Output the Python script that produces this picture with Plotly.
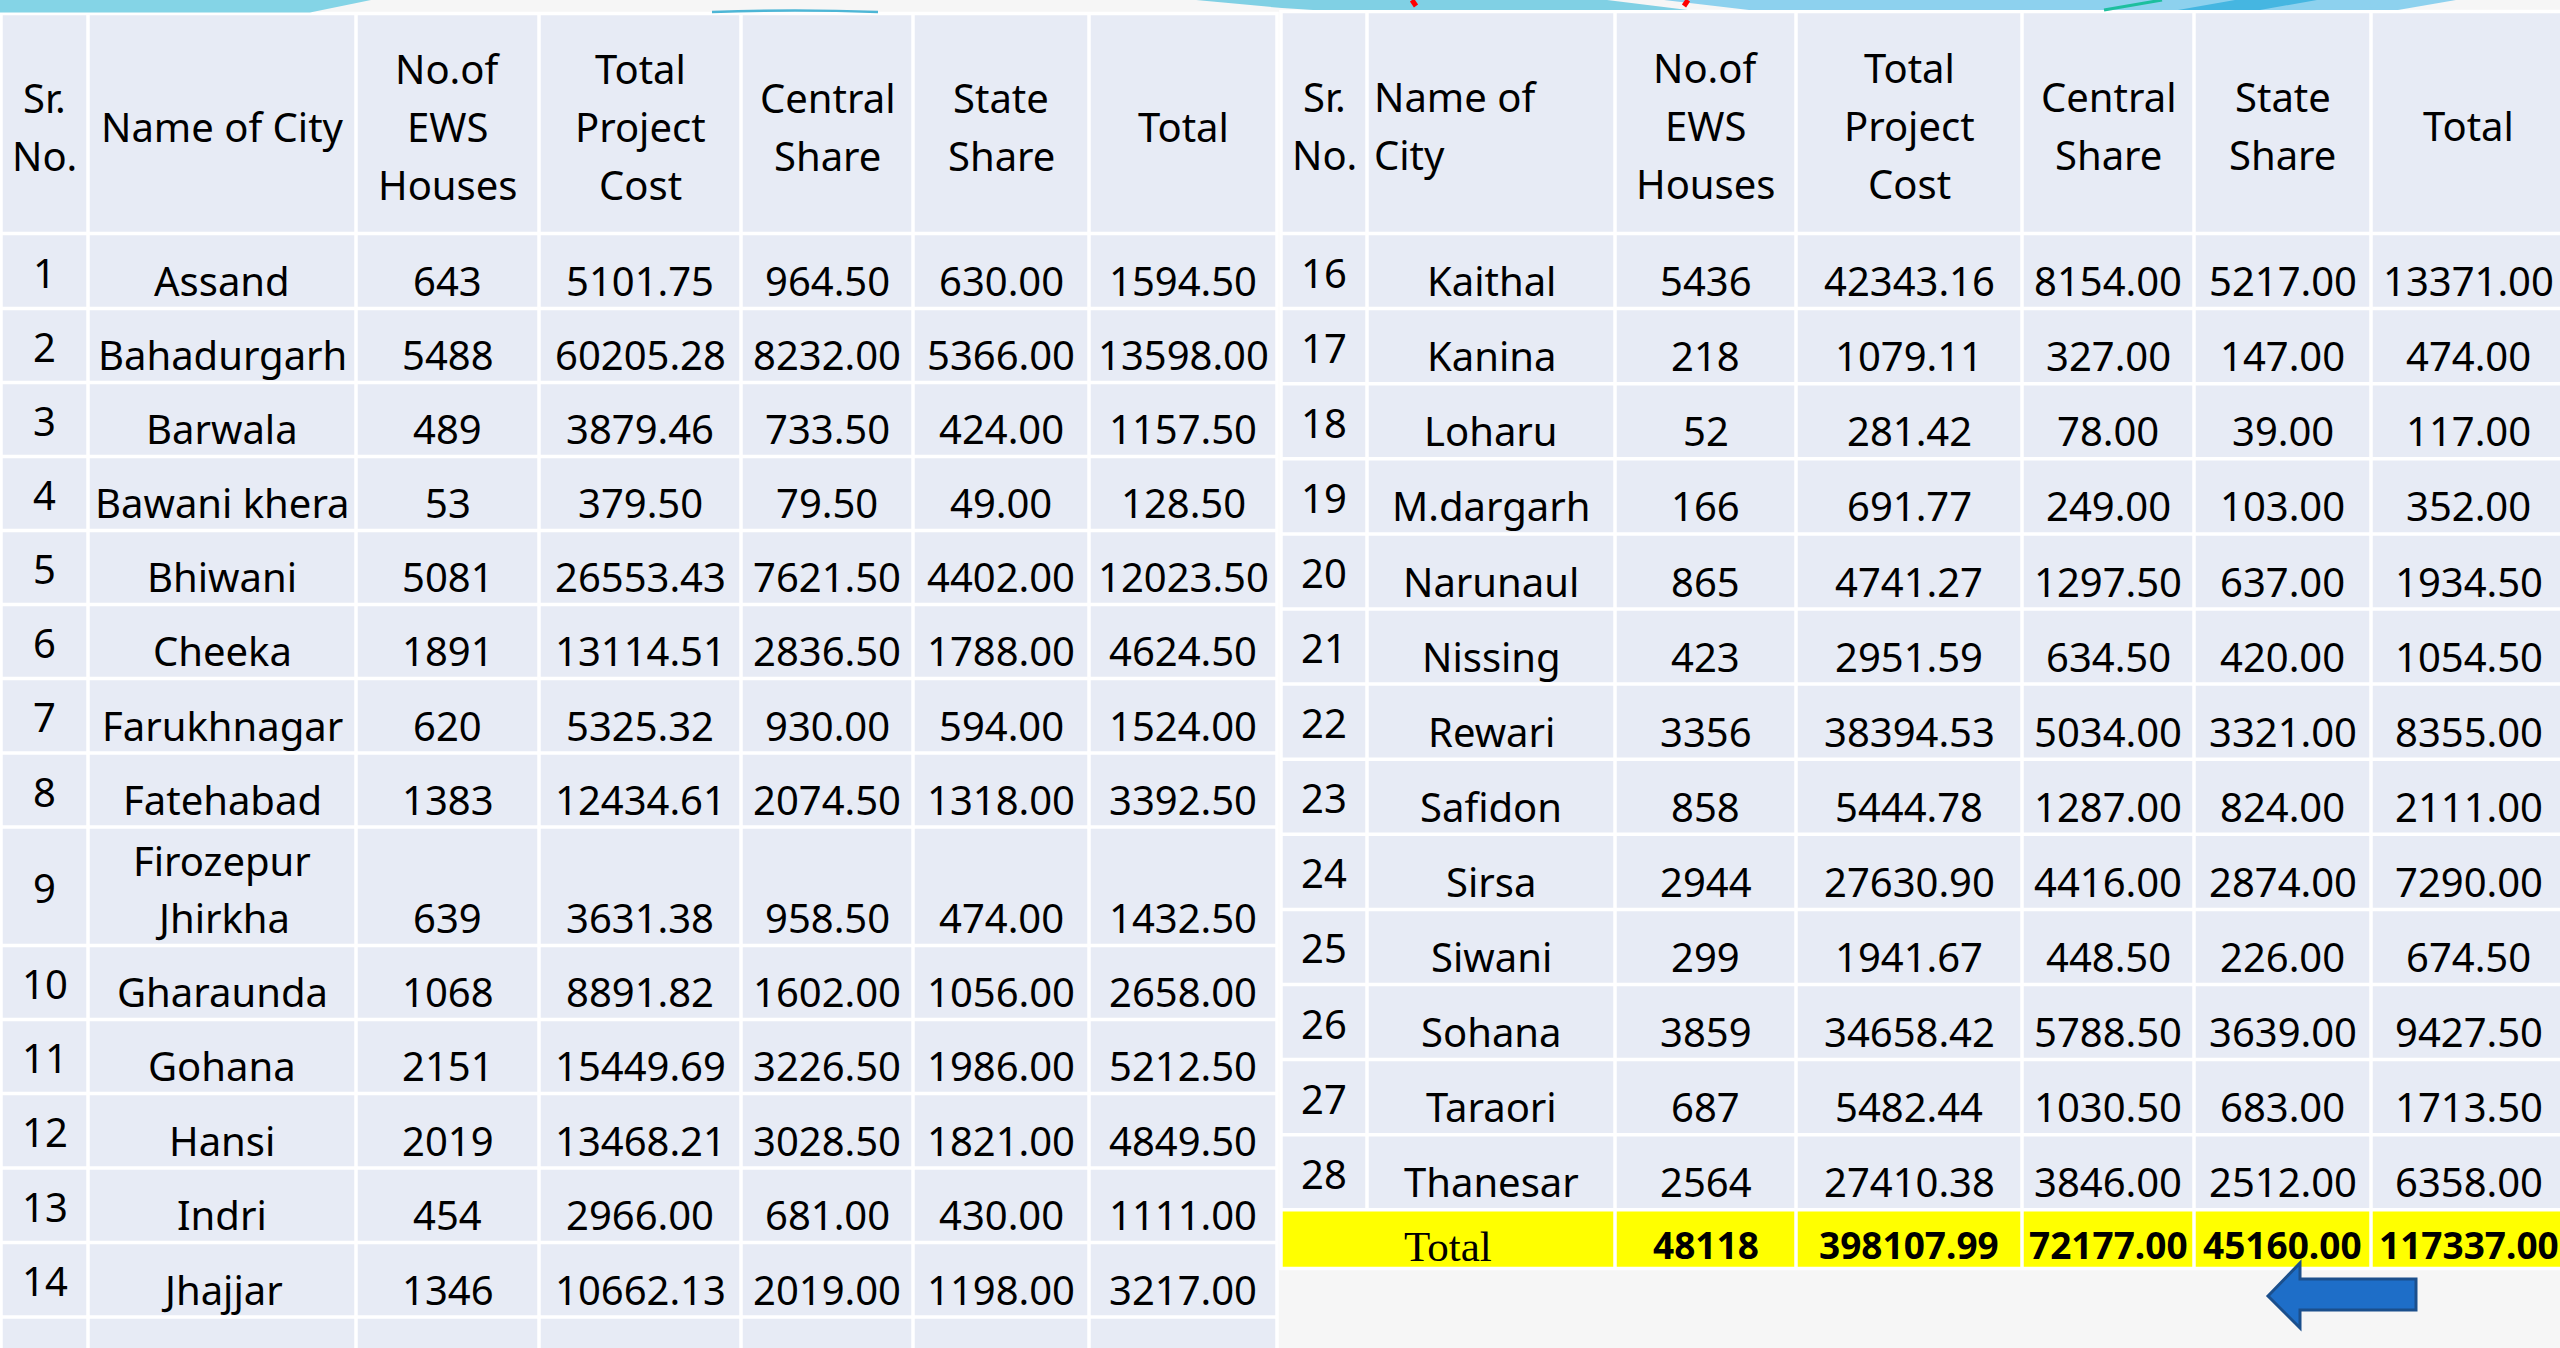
import plotly.graph_objects as go

# ---------------- data ----------------
left_sr = [1, 2, 3, 4, 5, 6, 7, 8, 9, 10, 11, 12, 13, 14, 15]
left_city = ["Assand", "Bahadurgarh", "Barwala", "Bawani khera", "Bhiwani", "Cheeka",
             "Farukhnagar", "Fatehabad", "Firozepur<br>Jhirkha", "Gharaunda", "Gohana",
             "Hansi", "Indri", "Jhajjar", "Jind"]
left_houses = [643, 5488, 489, 53, 5081, 1891, 620, 1383, 639, 1068, 2151, 2019, 454, 1346, 3066]
left_cost = [5101.75, 60205.28, 3879.46, 379.50, 26553.43, 13114.51, 5325.32, 12434.61,
             3631.38, 8891.82, 15449.69, 13468.21, 2966.00, 10662.13, 22993.46]
left_central = [964.50, 8232.00, 733.50, 79.50, 7621.50, 2836.50, 930.00, 2074.50,
                958.50, 1602.00, 3226.50, 3028.50, 681.00, 2019.00, 4599.00]
left_state = [630.00, 5366.00, 424.00, 49.00, 4402.00, 1788.00, 594.00, 1318.00,
              474.00, 1056.00, 1986.00, 1821.00, 430.00, 1198.00, 2982.00]
left_total = [1594.50, 13598.00, 1157.50, 128.50, 12023.50, 4624.50, 1524.00, 3392.50,
              1432.50, 2658.00, 5212.50, 4849.50, 1111.00, 3217.00, 7581.00]

right_sr = [16, 17, 18, 19, 20, 21, 22, 23, 24, 25, 26, 27, 28]
right_city = ["Kaithal", "Kanina", "Loharu", "M.dargarh", "Narunaul", "Nissing", "Rewari",
              "Safidon", "Sirsa", "Siwani", "Sohana", "Taraori", "Thanesar"]
right_houses = [5436, 218, 52, 166, 865, 423, 3356, 858, 2944, 299, 3859, 687, 2564]
right_cost = [42343.16, 1079.11, 281.42, 691.77, 4741.27, 2951.59, 38394.53, 5444.78,
              27630.90, 1941.67, 34658.42, 5482.44, 27410.38]
right_central = [8154.00, 327.00, 78.00, 249.00, 1297.50, 634.50, 5034.00, 1287.00,
                 4416.00, 448.50, 5788.50, 1030.50, 3846.00]
right_state = [5217.00, 147.00, 39.00, 103.00, 637.00, 420.00, 3321.00, 824.00,
               2874.00, 226.00, 3639.00, 683.00, 2512.00]
right_total = [13371.00, 474.00, 117.00, 352.00, 1934.50, 1054.50, 8355.00, 2111.00,
               7290.00, 674.50, 9427.50, 1713.50, 6358.00]

total_label = "Total"
grand_totals = [48118, 398107.99, 72177.00, 45160.00, 117337.00]

left_headers = ["Sr.<br>No.", "Name of City", "No.of<br>EWS<br>Houses", "Total<br>Project<br>Cost",
                "Central<br>Share", "State<br>Share", "Total"]
right_headers = ["Sr.<br>No.", "Name of<br>City", "No.of<br>EWS<br>Houses", "Total<br>Project<br>Cost",
                 "Central<br>Share", "State<br>Share", "Total"]

# ---------------- layout geometry (pixels) ----------------
W, H = 2560, 1348
L_COLS = [1, 88, 356, 539, 741, 913, 1089, 1277]
L_ROWS = [13.5, 233.5, 308.5, 382.5, 456.5, 530.5, 604.5, 678.5, 753, 827, 945.5,
          1019.5, 1093.5, 1168, 1242.5, 1317, 1391]
R_COLS = [1281, 1367, 1615, 1796, 2022, 2194, 2371, 2566]
R_ROWS = [11.5, 233.5, 308.6, 383.7, 458.8, 533.9, 609.0, 684.1, 759.2, 834.3, 909.4,
          984.5, 1059.6, 1134.7, 1209.8, 1268.5]
GAP = 1.75
CELL_FILL = "#E7EBF5"
BG = "#F6F6F6"
FONT = "Noto Sans, Open Sans, sans-serif"
FS = 40
HEAD_LS = 58
BODY_LS = 57

shapes = []
annotations = []


def rect(x0, x1, y0, y1, fill, layer="below"):
    shapes.append(dict(type="rect", xref="x", yref="y", x0=x0, x1=x1, y0=y0, y1=y1,
                       fillcolor=fill, line=dict(width=0), layer=layer))


def text(x, y, s, size=FS, anchor="center", family=FONT, bold=False, color="black"):
    if bold:
        s = "<b>" + s + "</b>"
    annotations.append(dict(x=x, y=y, xref="x", yref="y", text=s, showarrow=False,
                            xanchor=anchor, yanchor="middle",
                            font=dict(family=family, size=size, color=color)))


def lines(x, y_last, s, ls, anchor="center", centered=None):
    parts = s.split("<br>")
    n = len(parts)
    for i, p in enumerate(parts):
        if centered is not None:
            y = centered + (i - (n - 1) / 2) * ls
        else:
            y = y_last - (n - 1 - i) * ls
        text(x, y, p, anchor=anchor)


def fmt2(v):
    return f"{v:.2f}"


def draw_table(cols, rows, headers, sr, city, houses, cost, central, state, total,
               name_header_left=False, total_row=None):
    # white backing (cell borders)
    rect(cols[0] - GAP, cols[-1] + GAP, rows[0] - GAP, rows[-1] + GAP, "white")
    nrows = len(rows) - 1
    for r in range(nrows):
        y0, y1 = rows[r], rows[r + 1]
        is_total = total_row is not None and r == nrows - 1
        if is_total:
            rect(cols[0] + GAP, cols[2] - GAP, y0 + GAP, y1 - GAP, "#FFFF00")
            for c in range(2, len(cols) - 1):
                rect(cols[c] + GAP, cols[c + 1] - GAP, y0 + GAP, y1 - GAP, "#FFFF00")
        else:
            for c in range(len(cols) - 1):
                rect(cols[c] + GAP, cols[c + 1] - GAP, y0 + GAP, y1 - GAP, CELL_FILL)
    # header
    hmid = (rows[0] + rows[1]) / 2 + 3
    for c, h in enumerate(headers):
        xc = (cols[c] + cols[c + 1]) / 2
        if c == 1 and name_header_left:
            lines(cols[c] + 5, None, h, HEAD_LS, anchor="left", centered=hmid)
        else:
            lines(xc, None, h, HEAD_LS, centered=hmid)
    # body
    for i in range(len(sr)):
        y0, y1 = rows[i + 1], rows[i + 2]
        ybot = y1 - 28
        cx = [(cols[c] + cols[c + 1]) / 2 for c in range(len(cols) - 1)]
        text(cx[0], (y0 + y1) / 2 + 1, str(sr[i]))
        lines(cx[1], ybot, city[i], BODY_LS)
        text(cx[2], ybot, str(houses[i]))
        text(cx[3], ybot, fmt2(cost[i]))
        text(cx[4], ybot, fmt2(central[i]))
        text(cx[5], ybot, fmt2(state[i]))
        text(cx[6], ybot, fmt2(total[i]))
    if total_row is not None:
        y0, y1 = rows[-2], rows[-1]
        ym = (y0 + y1) / 2 + 5
        label, vals = total_row
        text((cols[0] + cols[2]) / 2, ym + 2, label, size=43,
             family="Liberation Serif, DejaVu Serif, serif")
        strs = [str(vals[0])] + [fmt2(v) for v in vals[1:]]
        for k, s in enumerate(strs):
            c = k + 2
            text((cols[c] + cols[c + 1]) / 2, ym, s, size=37, bold=True)


draw_table(L_COLS, L_ROWS, left_headers, left_sr, left_city, left_houses, left_cost,
           left_central, left_state, left_total)
draw_table(R_COLS, R_ROWS, right_headers, right_sr, right_city, right_houses, right_cost,
           right_central, right_state, right_total, name_header_left=True,
           total_row=(total_label, grand_totals))

# ---------------- slide decorations ----------------
def path(d, fill=None, color=None, width=0, layer="above"):
    shapes.append(dict(type="path", xref="x", yref="y", path=d,
                       fillcolor=fill if fill else "rgba(0,0,0,0)",
                       line=dict(color=color if color else "rgba(0,0,0,0)", width=width),
                       layer=layer))

path("M 0 0 L 371 0 L 310 12.5 L 0 12.5 Z", fill="#84D4E6")
path("M 712 12 Q 795 9 878 12", color="#4DB6D6", width=2.5)
path("M 1196 0 L 1607 0 L 1688 10 L 1313 10 L 1282 8 Z", fill="#80D0E4")
path("M 1664 0 L 2456 0 L 2398 10 L 1749 10 Z", fill="#8DD1EE")
path("M 2235 0 L 2317 0 L 2260 10 L 2178 10 Z", fill="#45B6E1")
path("M 2104 10 L 2162 0", color="#1DBF9E", width=3)
path("M 1412 0 L 1416 6", color="#FF0000", width=5)
path("M 1688 0 L 1684 6", color="#FF0000", width=5)
# arrow
path("M 2268 1296 L 2300 1263 L 2300 1279 L 2416 1279 L 2416 1310 L 2300 1310 L 2300 1328 Z",
     fill="#1E6EC8", color="#1B4F8C", width=3)

fig = go.Figure(go.Scatter(x=[], y=[], mode="markers", showlegend=False, hoverinfo="skip"))
fig.update_layout(
    width=W, height=H,
    margin=dict(l=0, r=0, t=0, b=0, pad=0),
    paper_bgcolor=BG, plot_bgcolor=BG,
    xaxis=dict(range=[0, W], visible=False, fixedrange=True),
    yaxis=dict(range=[H, 0], visible=False, fixedrange=True),
    shapes=shapes, annotations=annotations,
    showlegend=False,
)
fig.write_html("out.html", config={"displayModeBar": False},
               post_script="document.body.style.margin='0';document.body.style.overflow='hidden';")
